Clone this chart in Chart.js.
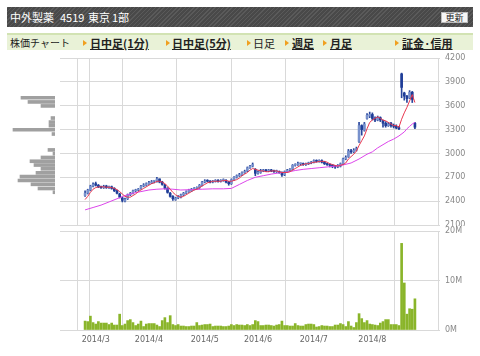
<!DOCTYPE html>
<html><head><meta charset="utf-8">
<script src="https://cdn.jsdelivr.net/npm/chart.js@4.4.1/dist/chart.umd.min.js"></script>
<style>
html,body{margin:0;padding:0;background:#fff;}
body{width:480px;height:356px;position:relative;overflow:hidden;font-family:"Noto Sans CJK JP","Noto Sans",sans-serif;}
#hdr{position:absolute;left:7px;top:7px;width:466px;height:20px;background:repeating-linear-gradient(135deg,#5a5a5a 0px,#5a5a5a 1px,#494949 1px,#494949 3px);}
.ht{position:absolute;top:0;line-height:20px;color:#fff;font-size:11px;white-space:nowrap;}
#btn{position:absolute;left:434px;top:5px;width:25px;height:9px;background:#f6f6f6;border:1px solid #bbb;font-size:9px;line-height:9px;color:#222;text-align:center;}
#nav{position:absolute;left:7px;top:33px;width:466px;height:15px;background:#e9f2d7;border-top:2px solid #d2e3b3;}
.nt{position:absolute;top:0;line-height:16px;font-size:11px;color:#222;white-space:nowrap;}
.lk{font-weight:bold;text-decoration:underline;}
.ar{position:absolute;top:5px;width:0;height:0;border-left:4px solid #f0a020;border-top:3px solid transparent;border-bottom:3px solid transparent;}
.box{position:absolute;overflow:hidden;}
canvas{display:block;}
</style></head>
<body>
<div id="hdr">
  <span class="ht" style="left:3px">中外製薬</span>
  <span class="ht" style="left:53px">4519</span>
  <span class="ht" style="left:81px">東京</span>
  <span class="ht" style="left:105px">1部</span>
  <div id="btn">更新</div>
</div>
<div id="nav">
  <span class="nt" style="left:3px;font-size:10px">株価チャート</span>
  <span class="ar" style="left:76px"></span><span class="nt lk" style="left:83px">日中足(1分)</span>
  <span class="ar" style="left:159px"></span><span class="nt lk" style="left:165px">日中足(5分)</span>
  <span class="ar" style="left:240px"></span><span class="nt" style="left:246px">日足</span>
  <span class="ar" style="left:278px"></span><span class="nt lk" style="left:285px">週足</span>
  <span class="ar" style="left:316px"></span><span class="nt lk" style="left:323px">月足</span>
  <span class="ar" style="left:388px"></span><span class="nt lk" style="left:395px">証金·信用</span>
</div>
<div class="box" style="left:0;top:50px;width:480px;height:176px"><canvas id="price" width="480" height="176"></canvas></div>
<div class="box" style="left:0;top:50px;width:60px;height:176px"><canvas id="prof" width="60" height="176"></canvas></div>
<div class="box" style="left:0;top:224px;width:480px;height:132px"><canvas id="vol" width="480" height="132"></canvas></div>
<script>
// ---- data (daily, 2014/2/25 .. 2014/8) ----
const monthTicks  = [4, 24, 45, 65, 86, 108];
const monthLabels = ['2014/3','2014/4','2014/5','2014/6','2014/7','2014/8'];
const priceTicks  = [2100, 2400, 2700, 3000, 3300, 3600, 3900, 4200];
const volumeTicks = [0, 10, 20];

const opens = [
2470,2500,2540,2590,2620,2600,2580,2570,2590,2570,
2580,2560,2530,2490,2440,2400,2430,2480,2500,2530,
2540,2560,2590,2600,2620,2630,2650,2650,2680,2640,
2600,2560,2500,2460,2420,2440,2450,2480,2500,2520,
2530,2550,2560,2570,2600,2640,2660,2650,2640,2650,
2660,2650,2660,2660,2640,2620,2670,2700,2720,2730,
2760,2780,2820,2840,2800,2750,2760,2780,2790,2780,
2790,2780,2770,2770,2760,2730,2770,2790,2800,2850,
2860,2870,2870,2860,2870,2880,2890,2910,2900,2910,
2890,2870,2860,2850,2840,2830,2840,2870,2930,2960,
3030,3020,3040,3150,3350,3290,3440,3470,3490,3440,
3420,3450,3410,3380,3350,3380,3350,3340,3320,4000,
3760,3720,3700,3770,3380];
const highs = [
2530,2550,2600,2630,2640,2610,2590,2600,2600,2590,
2590,2570,2540,2500,2450,2440,2490,2510,2540,2550,
2560,2600,2620,2630,2650,2660,2660,2700,2680,2650,
2610,2570,2510,2470,2450,2470,2490,2510,2530,2550,
2560,2570,2580,2610,2650,2670,2670,2660,2660,2670,
2670,2670,2680,2670,2650,2680,2710,2730,2750,2770,
2790,2830,2850,2880,2810,2780,2800,2800,2800,2800,
2800,2790,2790,2780,2770,2780,2800,2810,2860,2870,
2890,2880,2880,2880,2890,2900,2920,2920,2920,2920,
2900,2880,2870,2860,2850,2860,2880,2940,2970,3050,
3050,3060,3080,3390,3360,3390,3500,3520,3510,3460,
3470,3460,3420,3400,3390,3390,3370,3360,3340,4010,
3770,3730,3790,3780,3390];
const lows = [
2460,2490,2530,2580,2590,2570,2560,2560,2560,2560,
2550,2520,2490,2440,2390,2390,2420,2470,2490,2520,
2530,2550,2580,2590,2610,2620,2630,2640,2630,2600,
2550,2500,2450,2410,2410,2430,2440,2470,2490,2510,
2520,2540,2550,2560,2590,2630,2640,2630,2630,2640,
2640,2640,2650,2630,2600,2610,2660,2690,2710,2720,
2750,2770,2810,2830,2720,2740,2750,2770,2770,2770,
2770,2760,2760,2750,2710,2720,2760,2780,2790,2840,
2850,2850,2850,2850,2860,2870,2880,2890,2890,2880,
2860,2850,2830,2820,2810,2820,2830,2860,2920,2950,
3000,3010,3030,3140,3230,3280,3430,3450,3420,3400,
3410,3400,3330,3330,3340,3330,3320,3310,3300,3700,
3670,3640,3690,3640,3310];
const closes = [
2500,2540,2590,2610,2600,2580,2570,2580,2570,2580,
2560,2530,2500,2450,2410,2420,2480,2500,2530,2540,
2550,2590,2600,2620,2630,2640,2650,2680,2640,2610,
2560,2510,2460,2430,2440,2450,2480,2500,2520,2540,
2550,2560,2570,2600,2640,2650,2650,2640,2650,2660,
2650,2660,2660,2640,2620,2670,2700,2720,2730,2760,
2770,2820,2840,2860,2750,2760,2780,2790,2780,2790,
2780,2770,2770,2760,2730,2770,2790,2800,2850,2860,
2870,2870,2860,2870,2880,2890,2910,2900,2910,2890,
2870,2860,2850,2840,2830,2840,2870,2930,2950,3030,
3020,3040,3060,3350,3300,3370,3480,3490,3440,3420,
3450,3420,3380,3350,3370,3350,3340,3320,3310,3830,
3720,3690,3770,3680,3330];
// short moving average (red), read per day
const ma5 = [
2420,2460,2510,2550,2570,2580,2580,2580,2575,2575,
2570,2560,2545,2520,2490,2460,2450,2450,2470,2490,
2520,2540,2560,2580,2600,2620,2630,2650,2650,2640,
2620,2590,2550,2510,2480,2460,2450,2460,2480,2500,
2520,2540,2550,2570,2590,2610,2630,2640,2650,2650,
2650,2650,2660,2660,2650,2650,2660,2670,2690,2720,
2740,2760,2790,2810,2800,2790,2780,2780,2770,2770,
2780,2780,2780,2770,2760,2760,2760,2770,2790,2810,
2830,2850,2860,2870,2870,2880,2890,2890,2900,2900,
2900,2890,2870,2860,2850,2840,2850,2860,2880,2930,
2960,2990,3030,3100,3160,3220,3310,3390,3420,3440,
3460,3440,3420,3410,3390,3370,3350,3350,3330,3430,
3510,3580,3660,3740,3640];
// long moving average (magenta), read at these days
const ma25Days = [0,3,6,9,12,15,18,21,24,27,30,33,36,40,44,48,52,55,58,61,64,67,70,73,76,79,82,85,88,91,94,97,100,103,106,108,110,112,114,116,118,120,121,122,123,124];
const ma25 = [2290,2320,2350,2390,2430,2470,2500,2520,2540,2550,2555,2550,2540,2545,2550,2555,2555,2560,2610,2660,2700,2720,2740,2755,2765,2785,2800,2810,2820,2830,2840,2855,2880,2930,2990,3020,3070,3110,3150,3180,3220,3270,3310,3340,3370,3390];
// volume, millions of shares
const volumes = [
1.8,1.7,2.8,1.5,1.2,1.7,1.4,1.4,1.4,1.1,1.4,1.0,1.0,3.2,0.9,1.2,1.9,2.1,1.5,0.9,
1.2,1.8,0.7,1.2,1.3,1.3,1.3,1.0,0.7,1.9,2.5,1.5,2.9,1.1,0.9,1.1,0.8,0.8,0.7,0.7,
0.8,0.8,1.5,0.9,1.0,1.1,1.1,1.2,0.7,0.8,0.8,0.8,0.7,0.7,0.8,1.1,0.9,1.1,1.0,
1.0,0.9,1.1,0.9,1.1,1.9,1.7,0.9,0.9,1.0,1.0,0.9,0.8,1.0,1.1,1.8,0.9,0.9,0.8,0.8,
1.3,0.9,0.8,0.8,1.1,1.2,1.2,1.1,0.6,0.7,0.9,0.8,0.8,0.7,0.7,1.0,1.0,1.3,1.1,0.7,
1.7,0.8,0.5,1.5,3.3,2.3,1.5,1.9,1.2,1.1,1.0,0.9,1.4,1.7,2.1,2.1,1.1,1.1,1.1,0.9,
17.5,9.5,3.2,4.3,4.2,6.3];
// volume-at-price profile (left)
const profilePrices  = [3810,3747,3687,3504,3443,3390,3327,3263,3023,2966,2909,2852,2795,2738,2677,2620,2561,2504,2441,2384];
const profileVolumes = [34,27,14,4,6,6,42,3,7,2,14,25,21,14,19,35,37,24,17,2];

// ---- styling ----
const N = closes.length;
const GRID = '#d9d9d9';
const UP = '#7891cc', DOWN = '#1f3d98', WICK = '#27459c';
const xGrid = [-0.5, ...monthTicks, N - 0.5];
const xLabel = v => { const k = monthTicks.indexOf(v); return k >= 0 ? monthLabels[k] : ''; };
const idx = closes.map((c, i) => i);

function xScale(showLabels) {
  return {
    type: 'linear', min: -0.5, max: N - 0.5,
    afterBuildTicks: s => { s.ticks = xGrid.map(v => ({ value: v })); },
    ticks: { display: showLabels, autoSkip: false, maxRotation: 0, padding: 5, color: '#666',
             font: { family: 'DejaVu Sans', size: 8 }, callback: v => xLabel(v) },
    grid: { color: GRID, lineWidth: 1, drawTicks: false },
    border: { display: false },
    afterFit: s => { s.height = showLabels ? 26 : 0; s.paddingLeft = 0; s.paddingRight = 0; }
  };
}

new Chart(document.getElementById('price'), {
  type: 'bar',
  data: { datasets: [
    { type: 'line', data: ma5.map((v, i) => ({ x: i, y: v })), borderColor: '#e8374f', borderWidth: 1, pointRadius: 0, order: 0 },
    { type: 'line', data: ma25Days.map((d, k) => ({ x: d, y: ma25[k] })), borderColor: '#dc45ea', borderWidth: 1, pointRadius: 0, order: 0 },
    { data: idx.map(i => ({ x: i, y: [opens[i], closes[i]] })), backgroundColor: idx.map(i => closes[i] >= opens[i] ? UP : DOWN),
      barThickness: 2, grouped: false, minBarLength: 1, order: 1 },
    { data: idx.map(i => ({ x: i, y: [lows[i], highs[i]] })), backgroundColor: WICK, barThickness: 1, grouped: false, order: 2 }
  ]},
  options: {
    responsive: false, animation: false, devicePixelRatio: 1,
    layout: { padding: { left: 60, top: 8, right: 0, bottom: 1 } },
    plugins: { legend: { display: false }, tooltip: { enabled: false } },
    scales: {
      x: xScale(false),
      y: { position: 'right', min: 2100, max: 4200,
           afterBuildTicks: s => { s.ticks = priceTicks.map(v => ({ value: v })); },
           ticks: { color: '#888', font: { family: 'DejaVu Sans', size: 8 }, padding: 5, callback: v => String(v) },
           grid: { color: GRID, drawTicks: false }, border: { display: false },
           afterFit: s => { s.width = 40; s.paddingTop = 0; s.paddingBottom = 0; } }
    }
  }
});

new Chart(document.getElementById('prof'), {
  type: 'bar',
  data: { datasets: [{ data: profilePrices.map((p, k) => ({ y: p, x: profileVolumes[k] })), backgroundColor: '#a0a0a0', barThickness: 3 }] },
  options: {
    indexAxis: 'y', responsive: false, animation: false, devicePixelRatio: 1,
    layout: { padding: { left: 10, top: 8, right: 5, bottom: 1 } },
    plugins: { legend: { display: false }, tooltip: { enabled: false } },
    scales: {
      y: { type: 'linear', min: 2100, max: 4200, display: false },
      x: { type: 'linear', min: 0, max: 45, reverse: true, display: false }
    }
  }
});

new Chart(document.getElementById('vol'), {
  type: 'bar',
  data: { datasets: [{ data: volumes.map((v, i) => ({ x: i, y: v })), backgroundColor: '#8ab52a', barThickness: 2 }] },
  options: {
    responsive: false, animation: false, devicePixelRatio: 1,
    layout: { padding: { left: 60, top: 7, right: 0, bottom: 0 } },
    plugins: { legend: { display: false }, tooltip: { enabled: false } },
    scales: {
      x: xScale(true),
      y: { position: 'right', min: 0, max: 20,
           afterBuildTicks: s => { s.ticks = volumeTicks.map(v => ({ value: v })); },
           ticks: { color: '#888', font: { family: 'DejaVu Sans', size: 8 }, padding: 5, callback: v => v + 'M' },
           grid: { color: GRID, drawTicks: false }, border: { display: false },
           afterFit: s => { s.width = 40; s.paddingTop = 0; s.paddingBottom = 0; } }
    }
  }
});
</script>
</body></html>
